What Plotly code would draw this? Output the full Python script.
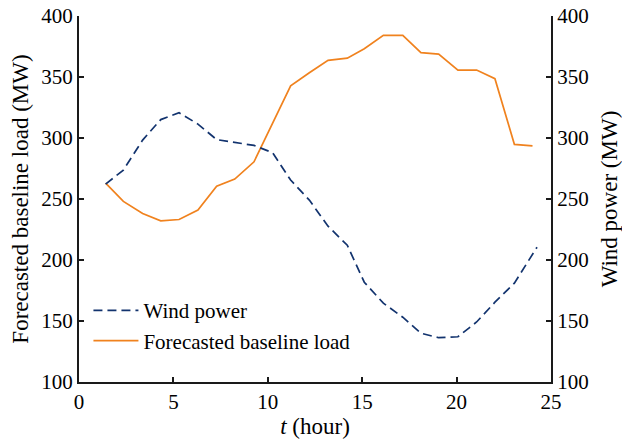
import plotly.graph_objects as go

# Data (t in hours, values in MW)
t_load = [1.41, 2.35, 3.37, 4.33, 5.30, 6.30, 7.29, 8.25, 9.27, 10.25, 11.21, 12.20,
          13.19, 14.21, 15.11, 16.12, 17.15, 18.11, 19.05, 20.07, 21.06, 22.03, 23.06, 24.02]
load = [263.0, 248.0, 238.1, 232.1, 233.2, 240.9, 260.5, 266.3, 280.5, 311.8, 342.8, 353.5,
        363.7, 365.4, 373.2, 384.2, 384.2, 369.9, 368.8, 355.7, 355.7, 348.6, 294.8, 293.6]

t_wind = [1.41, 2.35, 3.37, 4.33, 5.30, 6.30, 7.29, 8.25, 9.27, 10.25, 11.21, 12.20,
          13.19, 14.21, 15.11, 16.12, 17.15, 18.11, 19.05, 20.07, 21.06, 22.03, 23.06, 24.26]
wind = [262.2, 273.7, 298.3, 315.1, 320.7, 311.4, 298.7, 296.4, 293.9, 288.0, 265.5, 249.1,
        227.7, 212.1, 181.8, 164.6, 153.1, 140.0, 136.3, 137.1, 149.2, 165.4, 181.0, 210.5]

x_ticks = [0, 5, 10, 15, 20, 25]
y_ticks = [100, 150, 200, 250, 300, 350, 400]

FONT = "Liberation Serif"
AX = "#1a1a1a"
TXT = "#000000"

fig = go.Figure()
fig.add_trace(go.Scatter(x=t_wind, y=wind, mode="lines", name="Wind power",
                         line=dict(color="#12336e", width=1.7, dash="9px,5px"),
                         yaxis="y2"))
fig.add_trace(go.Scatter(x=t_load, y=load, mode="lines", name="Forecasted baseline load",
                         line=dict(color="#f0821e", width=1.7), yaxis="y"))

common = dict(showgrid=False, zeroline=False, showline=True, linecolor=AX, linewidth=2,
              ticks="inside", ticklen=5, tickwidth=1.5, tickcolor=AX, automargin=False,
              tickfont=dict(family=FONT, size=21, color=TXT))

fig.update_layout(
    width=622, height=442,
    margin=dict(l=79, r=71, t=16, b=60),
    paper_bgcolor="white", plot_bgcolor="white",
    font=dict(family=FONT, size=21, color=TXT),
    xaxis=dict(range=[0, 25], tickvals=x_ticks,
               title=dict(text="<i>t</i> (hour)", font=dict(family=FONT, size=23, color=TXT), standoff=5),
               **common),
    yaxis=dict(range=[100, 400], tickvals=y_ticks,
               title=dict(text="Forecasted baseline load (MW)", font=dict(family=FONT, size=23, color=TXT), standoff=6),
               **common),
    yaxis2=dict(range=[100, 400], tickvals=y_ticks, overlaying="y", side="right",
                title=dict(text="Wind power (MW)", font=dict(family=FONT, size=23, color=TXT), standoff=13),
                **common),
    legend=dict(x=0.02, y=0.251, xanchor="left", yanchor="top",
                bgcolor="rgba(0,0,0,0)", font=dict(family=FONT, size=21, color=TXT),
                tracegroupgap=0, itemwidth=45),
    showlegend=True,
)

fig.write_html("out.html")
